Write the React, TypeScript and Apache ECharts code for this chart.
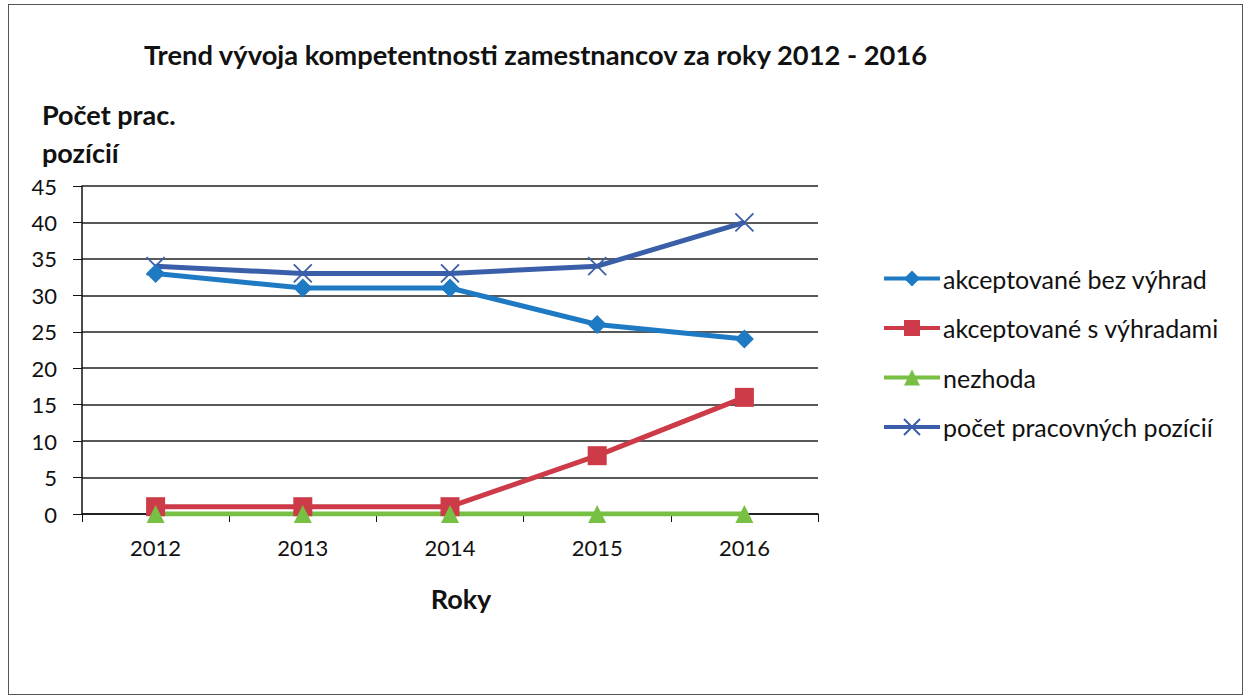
import React, { useEffect, useRef } from "react";
import * as echarts from "echarts";

const years = ["2012", "2013", "2014", "2015", "2016"];
const bezVyhrad = [33, 31, 31, 26, 24];
const sVyhradami = [1, 1, 1, 8, 16];
const nezhoda = [0, 0, 0, 0, 0];
const pocetPozicii = [34, 33, 33, 34, 40];
const seriesNames = [
  "akceptované bez výhrad",
  "akceptované s výhradami",
  "nezhoda",
  "počet pracovných pozícií",
];

const FONT = "Lato, 'Open Sans', sans-serif";
const crossPath = "path://M0,0L10,10M10,0L0,10";

export default function App() {
  const ref = useRef<HTMLDivElement>(null);
  useEffect(() => {
    if (!ref.current) return;
    const chart = echarts.init(ref.current, undefined, { renderer: "svg" });
    const mk = (name: string, data: number[], color: string, symbol: string, size: number, extra: any = {}) => ({
      name,
      type: "line",
      data,
      symbol,
      symbolSize: size,
      showSymbol: true,
      lineStyle: { color, width: 5 },
      itemStyle: { color, borderColor: color, borderWidth: 0, ...extra },
      z: 3,
    });
    chart.setOption({
      animation: false,
      backgroundColor: "#fff",
      textStyle: { fontFamily: FONT },
      title: {
        text: "Trend vývoja kompetentnosti zamestnancov za roky 2012 - 2016",
        left: 139,
        top: 36,
        textStyle: { fontFamily: FONT, fontSize: 27.3, fontWeight: "bold", color: "#111" },
      },
      legend: {
        orient: "vertical",
        left: 882,
        top: 266,
        padding: 0,
        itemWidth: 56,
        itemHeight: 20,
        itemGap: 24.5,
        data: seriesNames,
        lineStyle: { width: 4 },
        textStyle: { fontFamily: FONT, fontSize: 25, color: "#111", padding: [0, 0, 0, -2] },
      },
      grid: { left: 82, right: 427, top: 186, bottom: 183 },
      xAxis: {
        type: "category",
        data: years,
        boundaryGap: true,
        name: "Roky",
        nameLocation: "middle",
        nameGap: 71,
        nameTextStyle: { fontFamily: FONT, fontSize: 27, fontWeight: "bold", color: "#111", padding: [0, 0, 0, 22] },
        axisLine: { lineStyle: { color: "#111", width: 1.5 } },
        axisTick: { show: true, length: 8, lineStyle: { color: "#111" } },
        axisLabel: { fontFamily: FONT, fontSize: 22, color: "#111", margin: 22 },
      },
      yAxis: {
        type: "value",
        min: 0,
        max: 45,
        interval: 5,
        name: "Počet prac.\npozícií",
        nameLocation: "end",
        nameGap: 15,
        nameTextStyle: {
          fontFamily: FONT,
          fontSize: 27,
          fontWeight: "bold",
          color: "#111",
          align: "left",
          lineHeight: 38,
          padding: [0, 0, 0, -40],
        },
        axisLine: { show: true, lineStyle: { color: "#111", width: 1.5 } },
        axisTick: { show: true, length: 9, lineStyle: { color: "#111" } },
        axisLabel: { fontFamily: FONT, fontSize: 22, color: "#111", margin: 25 },
        splitLine: { lineStyle: { color: "#222", width: 1.5 } },
      },
      series: [
        { ...mk(seriesNames[3], pocetPozicii, "#3b5ea9", crossPath, 18, { borderWidth: 1.8, color: "#3b5ea9" }), z: 2 },
        mk(seriesNames[0], bezVyhrad, "#1f7ac4", "diamond", 19),
        mk(seriesNames[1], sVyhradami, "#cc3b47", "rect", 19),
        mk(seriesNames[2], nezhoda, "#77c043", "triangle", 18),
      ],
    });
    return () => chart.dispose();
  }, []);
  return (
    <div style={{ position: "absolute", left: 0, top: 0, width: 1245, height: 697 }}>
      <div ref={ref} style={{ width: 1245, height: 697 }} />
      <div
        style={{
          position: "absolute",
          left: 8,
          top: 4,
          width: 1233,
          height: 689,
          border: "1.5px solid #555",
          pointerEvents: "none",
        }}
      />
    </div>
  );
}
